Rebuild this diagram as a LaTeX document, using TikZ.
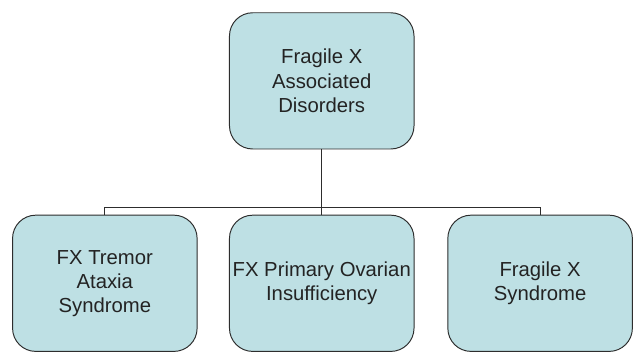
\documentclass[tikz,border=0pt]{standalone}
\usepackage{fontspec}
\setmainfont{Liberation Sans}
\definecolor{boxfill}{RGB}{190,224,228}
\definecolor{boxline}{RGB}{45,45,45}
\definecolor{textgray}{RGB}{35,35,35}
\begin{document}
\begin{tikzpicture}[x=1pt,y=-1pt,
  box/.style={draw=boxline, fill=boxfill, line width=1pt, rounded corners=24pt,
    text=textgray, align=center, inner sep=0pt,
    minimum width=191pt, minimum height=141pt,
    font=\fontsize{21}{25}\selectfont},
  link/.style={draw=boxline, line width=1pt}]
\useasboundingbox (0,0) rectangle (665.5,369.5);

% root of the hierarchy
\node[box] (root) at (333,83.7) {Fragile X\\Associated\\Disorders};

% the three associated conditions
\node[box] (fxtas) at (108.5,293.2) {FX Tremor\\Ataxia\\Syndrome};
\node[box] (fxpoi) at (333,293.2) {FX Primary Ovarian\\Insufficiency};
\node[box] (fxs)   at (559,293.2) {Fragile X\\Syndrome};

% bus line joining the root to its children
\coordinate (bus) at (333,215);
\draw[link] (root.south) -- (bus);
\draw[link] (fxtas.north) |- (bus) -| (fxs.north);
\draw[link] (fxpoi.north) -- (bus);
\end{tikzpicture}
\end{document}
